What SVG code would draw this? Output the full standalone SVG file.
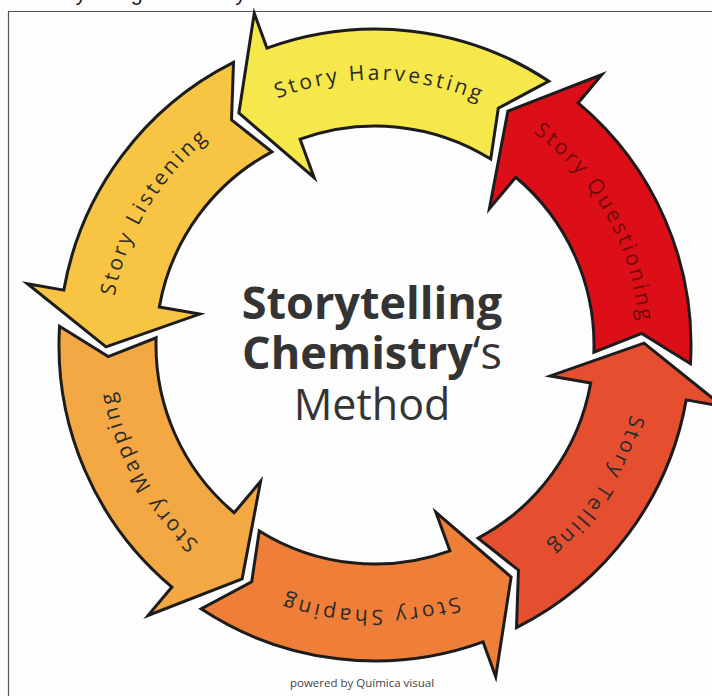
<svg xmlns="http://www.w3.org/2000/svg" xmlns:xlink="http://www.w3.org/1999/xlink" width="712" height="696" viewBox="0 0 712 696">
<style>
.arrow{stroke:#1c1c1c;stroke-width:3;stroke-linejoin:miter;stroke-miterlimit:10}
.lbl{font-family:"Open Sans","DejaVu Sans",sans-serif;font-size:21px;fill:#2a2a2a}
.title{font-family:"Open Sans","Liberation Sans",sans-serif;fill:#343434;text-anchor:middle}
</style>
<defs>
<path id="arrowShape" d="M548.95 81.19 A316 316 0 0 0 266.92 48.06 L254.27 13.29 L238.88 112.99 L314.12 177.74 L300.10 139.21 A219 219 0 0 1 490.73 159.08 L498.29 108.17 Z"/>
<path id="lblArc" d="M174.10 172.19 A265 265 0 0 1 580.07 177.15" fill="none"/>
</defs>
<rect x="0" y="0" width="712" height="696" fill="#fdfdfd"/>
<text x="36" y="0" font-family="Liberation Sans, Arial, sans-serif" font-size="21.6" fill="#222">Storytelling Chemistry</text>
<path d="M712 11.5 H8.5 V696" fill="none" stroke="#555" stroke-width="1.2"/>

<g id="node-harvesting">
<use href="#arrowShape" xlink:href="#arrowShape" class="arrow" fill="#F6E84A"/>
<text class="lbl" text-anchor="middle"><textPath href="#lblArc" xlink:href="#lblArc" startOffset="50%" textLength="206" lengthAdjust="spacing">Story Harvesting</textPath></text>
</g>
<g id="node-questioning">
<use href="#arrowShape" xlink:href="#arrowShape" class="arrow" fill="#DC0E17" transform="rotate(60 375 345)"/>
<text class="lbl" text-anchor="middle" transform="rotate(60 375 345)" style="fill:#6e0a0a"><textPath href="#lblArc" xlink:href="#lblArc" startOffset="50%" textLength="222" lengthAdjust="spacing">Story Questioning</textPath></text>
</g>
<g id="node-telling">
<use href="#arrowShape" xlink:href="#arrowShape" class="arrow" fill="#E54F30" transform="rotate(120 375 345)"/>
<text class="lbl" text-anchor="middle" transform="rotate(121.5 375 345)"><textPath href="#lblArc" xlink:href="#lblArc" startOffset="50%" textLength="157" lengthAdjust="spacing">Story Telling</textPath></text>
</g>
<g id="node-shaping">
<use href="#arrowShape" xlink:href="#arrowShape" class="arrow" fill="#EF7F38" transform="rotate(180 375 345)"/>
<text class="lbl" text-anchor="middle" transform="rotate(180 375 345)"><textPath href="#lblArc" xlink:href="#lblArc" startOffset="50%" textLength="175" lengthAdjust="spacing">Story Shaping</textPath></text>
</g>
<g id="node-mapping">
<use href="#arrowShape" xlink:href="#arrowShape" class="arrow" fill="#F3A843" transform="rotate(240 375 345)"/>
<text class="lbl" text-anchor="middle" transform="rotate(240 375 345)"><textPath href="#lblArc" xlink:href="#lblArc" startOffset="50%" textLength="176" lengthAdjust="spacing">Story Mapping</textPath></text>
</g>
<g id="node-listening">
<use href="#arrowShape" xlink:href="#arrowShape" class="arrow" fill="#F8C443" transform="rotate(300 375 345)"/>
<text class="lbl" text-anchor="middle" transform="rotate(300 375 345)"><textPath href="#lblArc" xlink:href="#lblArc" startOffset="50%" textLength="186" lengthAdjust="spacing">Story Listening</textPath></text>
</g>

<g id="title">
<text class="title" x="372" y="319" font-size="45" font-weight="700">Storytelling</text>
<text class="title" x="372" y="369" font-size="45"><tspan font-weight="700">Chemistry</tspan>‘s</text>
<text class="title" x="372" y="420" font-size="43">Method</text>
</g>
<text x="362" y="687" font-family="Open Sans, Liberation Sans, sans-serif" font-size="11.5" fill="#444" text-anchor="middle">powered by Química visual</text>
</svg>
